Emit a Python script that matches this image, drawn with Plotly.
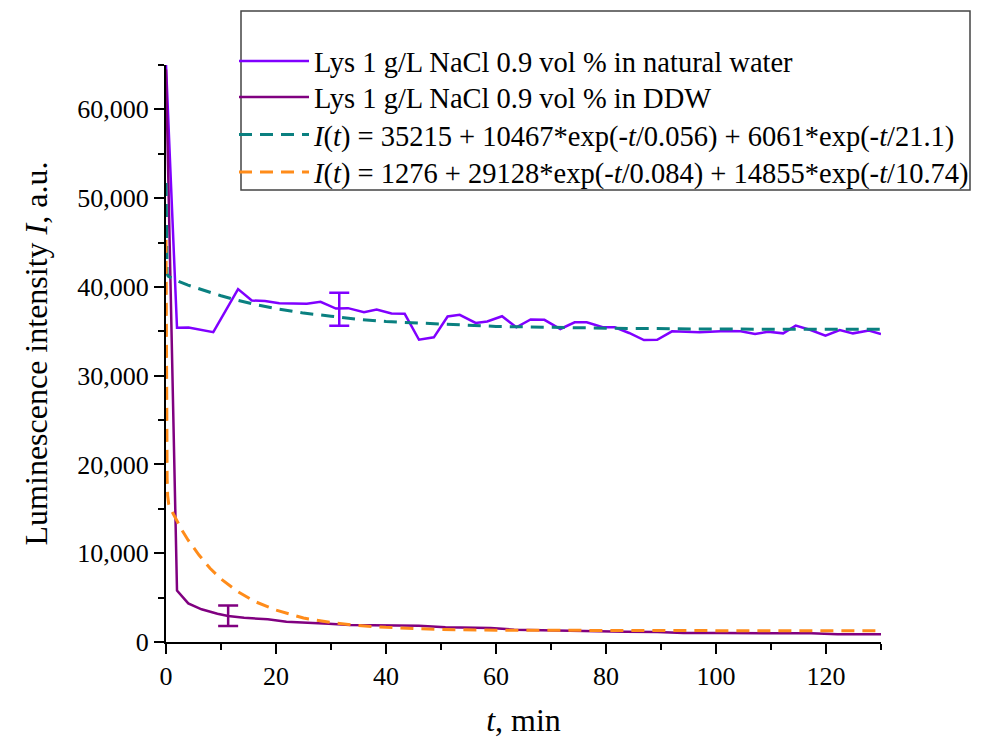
import plotly.graph_objects as go

# ---- data ----
nat_t = [0, 2.0, 4.1, 8.6, 13.1, 15.6, 18.0, 20.6, 25.6, 28.1, 30.9, 33.1, 36.0, 38.3, 41.0, 43.4,
         46.0, 48.7, 51.2, 53.4, 56.3, 58.4, 61.1, 63.7, 66.3, 68.8, 71.7, 74.3, 76.5, 79.4, 81.6,
         84.2, 86.9, 89.3, 92.0, 97.0, 101.8, 104.5, 107.1, 109.5, 112.2, 114.5, 117.2, 119.9,
         122.5, 124.9, 127.8, 130.0]
nat_v = [65000, 35400, 35420, 34900, 39750, 38470, 38420, 38150, 38110, 38320, 37560, 37610,
         37160, 37460, 37010, 36970, 34050, 34320, 36670, 36860, 35950, 36100, 36700, 35450,
         36330, 36290, 35260, 36020, 36020, 35450, 35450, 34810, 34010, 34050, 35000, 34890,
         35040, 35000, 34700, 34960, 34770, 35640, 35150, 34510, 35150, 34770, 35080, 34700]

ddw_t = [0, 2.0, 4.05, 6.46, 9.35, 11.3, 14.2, 18.5, 21.9, 26.7, 29.6, 33.4, 38.3, 43.1, 46.0,
         50.8, 54.6, 59.0, 63.3, 69.1, 75.8, 83.6, 89.3, 94.1, 100.9, 107.6, 112.5, 117.3,
         122.1, 126.0, 130.0]
ddw_v = [64500, 5800, 4350, 3680, 3190, 2930, 2740, 2550, 2290, 2180, 2060, 1910, 1880, 1910,
         1840, 1650, 1580, 1580, 1390, 1310, 1240, 1160, 1130, 1010, 1010, 1010, 980, 980,
         860, 860, 860]

# error bars (one per series)
nat_err_t = [31.5]
nat_err_v = [37490]
nat_err = [1850]
ddw_err_t = [11.3]
ddw_err_v = [2950]
ddw_err = [1160]

# fitted curves, values
fit1_t = [0, 0.05, 0.1, 0.2, 0.4, 1, 2, 4, 6, 8, 10, 13, 16, 20, 25, 30, 35, 40, 50, 60, 70, 80, 100, 130]
fit1_v = [51700, 45500, 43000, 41500, 41200, 41000, 40700, 40200, 39800, 39400, 39000, 38500,
          38050, 37550, 37050, 36700, 36350, 36100, 35800, 35550, 35450, 35350, 35250, 35230]
fit2_t = [0, 0.05, 0.1, 0.2, 0.3, 0.5, 1, 2, 3, 4, 6, 8, 10, 13, 16, 20, 25, 30, 35, 40, 50, 60, 70, 80, 100, 130]
fit2_v = [45300, 32100, 24800, 18500, 16500, 15500, 14800, 13600, 12500, 11500, 9800, 8300, 7100,
          5700, 4600, 3600, 2700, 2200, 1850, 1650, 1400, 1330, 1300, 1290, 1280, 1280]

names = [
    "Lys 1 g/L NaCl 0.9 vol % in natural water",
    "Lys 1 g/L NaCl 0.9 vol % in DDW",
    "<i>I</i>(<i>t</i>) = 35215 + 10467*exp(-<i>t</i>/0.056) + 6061*exp(-<i>t</i>/21.1)",
    "<i>I</i>(<i>t</i>) = 1276 + 29128*exp(-<i>t</i>/0.084) + 14855*exp(-<i>t</i>/10.74)",
]

C_NAT = "#8000FF"
C_DDW = "#800080"
C_FIT1 = "#0A8080"
C_FIT2 = "#FF8C1A"

FONT = "Liberation Serif, Times New Roman, serif"
DASH = "13px,8px"

fig = go.Figure()
fig.add_trace(go.Scatter(x=nat_t, y=nat_v, mode="lines", name=names[0], legend="legend",
                         line=dict(color=C_NAT, width=2.5)))
fig.add_trace(go.Scatter(x=ddw_t, y=ddw_v, mode="lines", name=names[1], legend="legend2",
                         line=dict(color=C_DDW, width=2.5)))
fig.add_trace(go.Scatter(x=nat_err_t, y=nat_err_v, mode="markers", showlegend=False,
                         marker=dict(size=1, color="rgba(0,0,0,0)"),
                         error_y=dict(type="data", array=nat_err, color=C_NAT, thickness=2.5, width=10)))
fig.add_trace(go.Scatter(x=ddw_err_t, y=ddw_err_v, mode="markers", showlegend=False,
                         marker=dict(size=1, color="rgba(0,0,0,0)"),
                         error_y=dict(type="data", array=ddw_err, color=C_DDW, thickness=2.5, width=10)))
fig.add_trace(go.Scatter(x=fit1_t, y=fit1_v, mode="lines", name=names[2], legend="legend3",
                         line=dict(color=C_FIT1, width=3, dash=DASH)))
fig.add_trace(go.Scatter(x=fit2_t, y=fit2_v, mode="lines", name=names[3], legend="legend4",
                         line=dict(color=C_FIT2, width=3, dash=DASH)))

# page body adds an 8px offset; figure sized so the plot lands where the reference has it
OFF = 8
W, H = 981 - OFF, 743 - OFF
PL, PT, PR, PB = 166, 65, 881, 642   # plot area in page pixels
ML, MT = PL - OFF, PT - OFF
MR = W - (PR - OFF)
MB = H - (PB - OFF)

def px2x(px):
    return (px - PL) / (PR - PL)

def py2y(py):
    return (PB - py) / (PB - PT)

axis_common = dict(
    showline=True, linecolor="black", linewidth=2, mirror=False,
    ticks="outside", ticklen=10, tickwidth=2, tickcolor="black",
    showgrid=False, zeroline=False,
    tickfont=dict(family=FONT, size=26, color="black"),
)

def legend_at(center_py):
    return dict(
        x=px2x(234), y=py2y(center_py - 26), xanchor="left", yanchor="top",
        bgcolor="rgba(0,0,0,0)", borderwidth=0,
        font=dict(family=FONT, size=28.5, color="black"),
        itemwidth=70,
    )

fig.update_layout(
    width=W, height=H,
    margin=dict(l=ML, r=MR, t=MT, b=MB, autoexpand=False),
    paper_bgcolor="white", plot_bgcolor="white",
    font=dict(family=FONT, color="black"),
    xaxis=dict(range=[0, 130], dtick=20, tick0=0,
               minor=dict(dtick=10, ticklen=6, tickwidth=2, tickcolor="black", ticks="outside"),
               title=dict(text="<i>t</i>, min", font=dict(family=FONT, size=32), standoff=18),
               **axis_common),
    yaxis=dict(range=[0, 65000], dtick=10000, tick0=0, tickformat=",d",
               minor=dict(dtick=5000, ticklen=6, tickwidth=2, tickcolor="black", ticks="outside"),
               title=dict(text="Luminescence intensity <i>I</i>, a.u.", font=dict(family=FONT, size=32), standoff=20),
               **axis_common),
    legend=legend_at(62),
    legend2=legend_at(98),
    legend3=legend_at(135.5),
    legend4=legend_at(173),
    shapes=[dict(type="rect", xref="paper", yref="paper",
                 x0=px2x(241), x1=px2x(970), y0=py2y(190), y1=py2y(11),
                 line=dict(color="#444444", width=1.5), fillcolor="rgba(0,0,0,0)", layer="above")],
    showlegend=True,
)

fig.write_html("out.html")
